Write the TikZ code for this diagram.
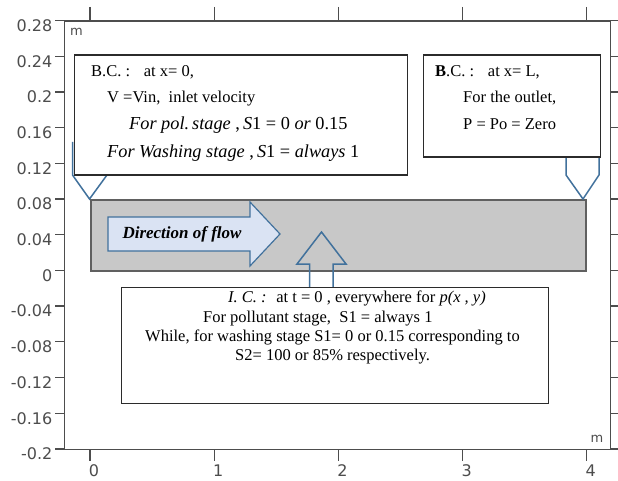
\documentclass[tikz,border=0pt]{standalone}
\usepackage{fontspec}
\setmainfont{Liberation Serif}
\newfontfamily\axisfont{DejaVu Sans}
\definecolor{axisgray}{HTML}{4D4D4D}
\definecolor{calblue}{HTML}{41719C}
\definecolor{flowfill}{HTML}{DAE3F3}
\definecolor{chanfill}{HTML}{C8C8C8}
\definecolor{chanborder}{HTML}{606060}
\definecolor{boxgray}{HTML}{2B2B2B}
\begin{document}
\begin{tikzpicture}[x=1pt,y=-1pt,
  axframe/.style={draw=axisgray,line width=1.3pt},
  axtick/.style={draw=axisgray,line width=1.3pt},
  ylab/.style={font=\axisfont\fontsize{16}{16}\selectfont,text=axisgray,anchor=east,inner sep=0},
  xlab/.style={font=\axisfont\fontsize{16}{16}\selectfont,text=axisgray,anchor=center,inner sep=0},
  unitlab/.style={font=\axisfont\fontsize{13}{13}\selectfont,text=axisgray,inner sep=0},
  txt/.style={font=\fontsize{16.5}{18}\selectfont,anchor=base west,inner sep=0},
  itxt/.style={font=\fontsize{18.3}{20}\selectfont,anchor=base west,inner sep=0},
  textbox/.style={draw=boxgray,fill=white,line width=1.2pt,anchor=north west,inner sep=0},
  calloutline/.style={draw=calblue,line width=1.5pt,line join=miter},
  flowarrow/.style={draw=calblue,fill=flowfill,line width=1.2pt},
  uparrow/.style={draw=calblue,line width=1.5pt},
  chan/.style={draw=chanborder,fill=chanfill,line width=1.6pt,anchor=north west,inner sep=0}
]
\useasboundingbox (0,0) rectangle (618,481);
\fill[white] (0,0) rectangle (618,481);

% axes frame
\node[axframe,anchor=north west,inner sep=0,minimum width=546,minimum height=428.5] (frame) at (64,20.5) {};
\foreach \i/\lab in {0/0.28,1/0.24,2/0.2,3/0.16,4/0.12,5/0.08,6/0.04,7/0,8/-0.04,9/-0.08,10/-0.12,11/-0.16,12/-0.2}{
  \pgfmathsetmacro{\yy}{20.5+35.7*\i}
  \draw[axtick] (55,\yy) -- (64,\yy);
  \draw[axtick] (610,\yy) -- (618,\yy);
  \node[ylab] (yl\i) at (52.5,\yy+5) {\lab};
}
\foreach \k in {0,1,2,3,4}{
  \pgfmathsetmacro{\xx}{90+124.2*\k}
  \draw[axtick] (\xx,7) -- (\xx,20.5);
  \draw[axtick] (\xx,449) -- (\xx,461);
  \node[xlab] (xl\k) at (\xx+4,470.5) {\k};
}
\node[unitlab,anchor=west] (mtop) at (70,32) {m};
\node[unitlab] (mbot) at (597,439) {m};

% channel
\node[chan,minimum width=495,minimum height=71] (channel) at (90,199) {};

% direction of flow arrow
\draw[flowarrow] (108,217) -- (250,217) -- (250,202) -- (280,234) -- (250,266) -- (250,251) -- (108,251) -- cycle;
\node[font=\fontsize{17}{17}\selectfont\bfseries\itshape,inner sep=0] (flowtxt) at (182,234) {Direction of flow};

% upward arrow
\draw[uparrow] (309.5,288) -- (309.5,264) -- (297,264) -- (321.5,232) -- (346,264) -- (333,264) -- (333,288);

% callout pointers
\coordinate (c1a) at (72.5,142);
\coordinate (c1tip) at (89.5,199);
\draw[calloutline] (c1a) -- (72.5,175) -- (c1tip) -- (107,175);
\coordinate (c2tip) at (583,199);
\draw[calloutline] (566,156) -- (566,175) -- (c2tip) -- (599,175) -- (599,156);

% box 1
\node[textbox,minimum width=333,minimum height=120] (bc1) at (73.5,54.5) {};
\node[txt] (b1l1) at (91,77) {B.C. :~~ at x= 0,};
\node[txt] (b1l2) at (107,103) {V =Vin,~ inlet velocity};
\node[itxt] (b1l3) at (129,130) {\textit{For pol.\,stage} ,\,\textit{S}1 = 0 \textit{or} 0.15};
\node[itxt] (b1l4) at (107,158) {\textit{For Washing stage} ,\,\textit{S}1 = \textit{always} 1};

% box 2
\node[textbox,minimum width=177,minimum height=102] (bc2) at (423,54.5) {};
\node[txt] (b2l1) at (435,77) {\textbf{B}.C. :~~ at x= L,};
\node[txt] (b2l2) at (463,103) {For the outlet,};
\node[txt] (b2l3) at (463,130) {P = Po = Zero};

% box 3
\node[textbox,minimum width=427,minimum height=116] (ic) at (121,287) {};
\node[txt] (b3l1) at (228,302) {\textit{I. C. :}~ at t = 0 , everywhere for \textit{p(x , y)}};
\node[txt] (b3l2) at (203,322) {For pollutant stage,~ S1 = always 1};
\node[txt] (b3l3) at (145,341) {While, for washing stage S1= 0 or 0.15 corresponding to};
\node[txt] (b3l4) at (235,360) {S2= 100 or 85\% respectively.};
\end{tikzpicture}
\end{document}
